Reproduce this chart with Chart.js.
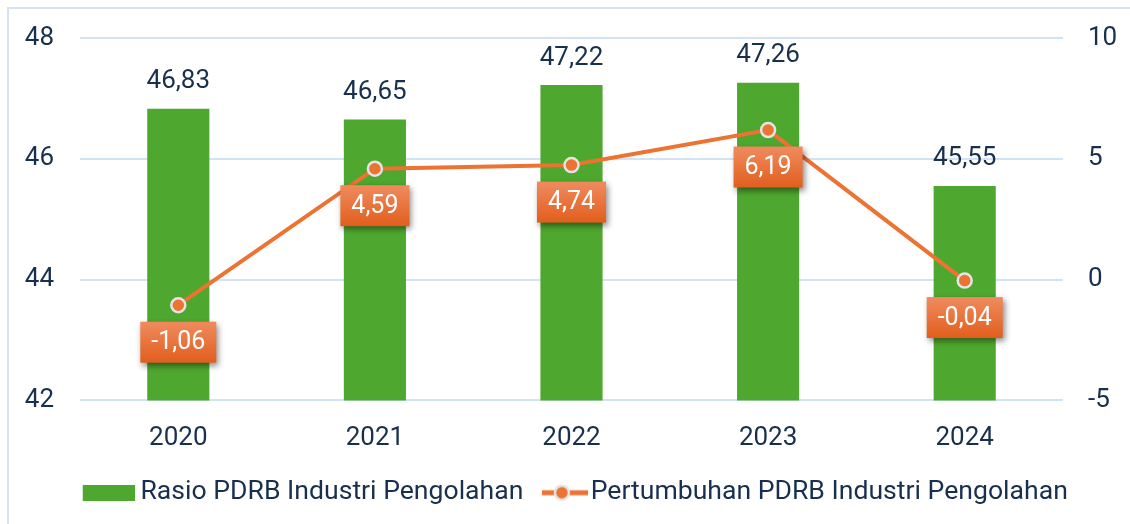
<!DOCTYPE html>
<html>
<head>
<meta charset="utf-8">
<script src="https://cdn.jsdelivr.net/npm/chart.js@4.4.1/dist/chart.umd.min.js"></script>
<style>
  html, body { margin: 0; padding: 0; background: #fff; overflow: hidden; }
  .frame { position: absolute; left: 7px; top: 7px; width: 2000px; height: 2000px;
           border-left: 2px solid #d3e3f3; border-top: 2px solid #d3e3f3; }
  .wrap { position: absolute; left: 0; top: 0; width: 1130px; height: 524px; }
</style>
</head>
<body>
<div class="frame"></div>
<div class="wrap"><canvas id="myChart"></canvas></div>
<script>
const years = ['2020', '2021', '2022', '2023', '2024']
const rasio = [46.83, 46.65, 47.22, 47.26, 45.55]
const pertumbuhan = [-1.06, 4.59, 4.74, 6.19, -0.04]
const leftTicks = [42, 44, 46, 48]
const rightTicks = [-5, 0, 5, 10]

const green = '#4ea72e'
const orange = '#ec7332'
const ink = '#182f4e'
const font = 'Roboto'

const fmt = v => v.toFixed(2).replace('.', ',')

// legend swatches, drawn on small canvases so they can be used as pointStyle
const barSwatch = document.createElement('canvas')
barSwatch.width = 60
barSwatch.height = 16
let c = barSwatch.getContext('2d')
c.fillStyle = green
c.fillRect(8, 0, 52, 16)

const lineSwatch = document.createElement('canvas')
lineSwatch.width = 66
lineSwatch.height = 20
c = lineSwatch.getContext('2d')
c.strokeStyle = orange
c.lineWidth = 5
c.beginPath()
c.moveTo(20, 10)
c.lineTo(66, 10)
c.stroke()
c.beginPath()
c.arc(40, 10, 7, 0, Math.PI * 2)
c.fillStyle = orange
c.fill()
c.lineWidth = 2.5
c.strokeStyle = '#e4e4e4'
c.stroke()

// value labels: plain text above bars, orange boxes under line points
const valueLabels = {
    id: 'valueLabels',
    afterDatasetsDraw(chart) {
        const ctx = chart.ctx
        ctx.save()
        ctx.textAlign = 'center'
        ctx.textBaseline = 'middle'

        const bars = chart.getDatasetMeta(0)
        ctx.font = '26px ' + font
        ctx.fillStyle = ink
        bars.data.forEach((el, i) => {
            ctx.fillText(fmt(rasio[i]), el.x, el.y - 27)
        })

        const pts = chart.getDatasetMeta(1)
        ctx.font = '25px ' + font
        pts.data.forEach((el, i) => {
            const txt = fmt(pertumbuhan[i])
            const w = ctx.measureText(txt).width + 22
            const h = 41
            const cx = el.x
            const cy = el.y + 37
            const g = ctx.createLinearGradient(0, cy - h / 2, 0, cy + h / 2)
            g.addColorStop(0, '#f08b5e')
            g.addColorStop(1, '#e15e1d')
            ctx.save()
            ctx.shadowColor = 'rgba(0,0,0,0.45)'
            ctx.shadowBlur = 6
            ctx.shadowOffsetX = 2
            ctx.shadowOffsetY = 3
            ctx.fillStyle = g
            ctx.fillRect(cx - w / 2, cy - h / 2, w, h)
            ctx.restore()
            ctx.fillStyle = '#ffffff'
            ctx.fillText(txt, cx, cy + 1)
        })
        ctx.restore()
    }
}

// fixed axis widths; the tick labels may overhang the plot top and bottom
const fitY = width => s => {
    s.width = width
    s.paddingTop = 0
    s.paddingBottom = 0
}

new Chart(document.querySelector('#myChart'), {
    type: 'bar',
    data: {
        labels: years,
        datasets: [{
            label: 'Rasio PDRB Industri Pengolahan',
            data: rasio,
            backgroundColor: green,
            barPercentage: 0.316,
            categoryPercentage: 1,
            yAxisID: 'y',
            order: 2
        }, {
            type: 'line',
            label: 'Pertumbuhan PDRB Industri Pengolahan',
            data: pertumbuhan,
            borderColor: orange,
            borderWidth: 4,
            backgroundColor: orange,
            pointRadius: 7,
            pointBorderWidth: 2.5,
            pointBorderColor: '#e4e4e4',
            pointBackgroundColor: orange,
            yAxisID: 'y1',
            order: 1
        }]
    },
    options: {
        responsive: true,
        maintainAspectRatio: false,
        animation: false,
        layout: { padding: { top: 38, left: 20, right: 0, bottom: 8 } },
        plugins: {
            tooltip: { enabled: false },
            legend: {
                position: 'bottom',
                labels: {
                    usePointStyle: true,
                    pointStyleWidth: 45,
                    padding: 9,
                    color: ink,
                    font: { family: font, size: 26.6 },
                    generateLabels: () => [
                        { text: 'Rasio PDRB Industri Pengolahan', pointStyle: barSwatch, fontColor: ink, lineWidth: 0, datasetIndex: 0 },
                        { text: 'Pertumbuhan PDRB Industri Pengolahan', pointStyle: lineSwatch, fontColor: ink, lineWidth: 0, datasetIndex: 1 }
                    ]
                }
            }
        },
        scales: {
            x: {
                grid: { display: false },
                border: { display: false },
                ticks: { color: ink, padding: 14, font: { family: font, size: 26 } },
                afterFit: s => { s.height = 70 }
            },
            y: {
                position: 'left',
                min: 42,
                max: 48,
                afterBuildTicks: s => { s.ticks = leftTicks.map(v => ({ value: v })) },
                grid: { color: '#d2e3f4', lineWidth: 2, drawTicks: false },
                border: { display: false },
                ticks: { color: ink, padding: 26, font: { family: font, size: 26 } },
                afterFit: fitY(60)
            },
            y1: {
                position: 'right',
                min: -5,
                max: 10,
                afterBuildTicks: s => { s.ticks = rightTicks.map(v => ({ value: v })) },
                grid: { display: false, drawTicks: false },
                border: { display: false },
                ticks: { color: ink, padding: 25, font: { family: font, size: 26 } },
                afterFit: fitY(67)
            }
        }
    },
    plugins: [valueLabels]
})
</script>
</body>
</html>
